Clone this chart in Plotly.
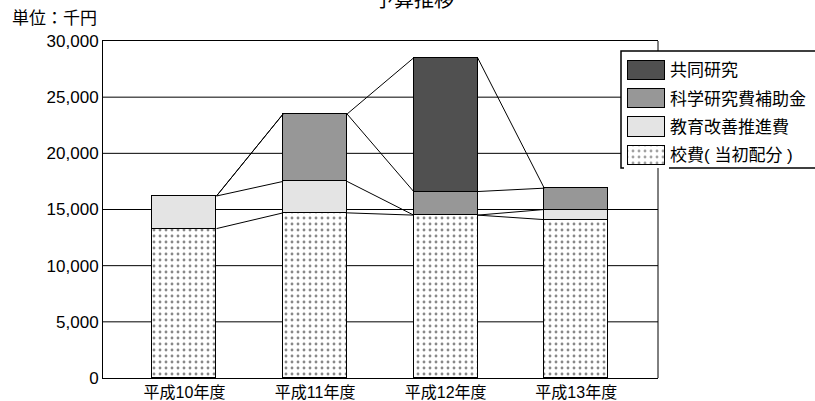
import plotly.graph_objects as go

# --- data (千円) ---
years = ["平成10年度", "平成11年度", "平成12年度", "平成13年度"]
series_names = ["校費( 当初配分 )", "教育改善推進費", "科学研究費補助金", "共同研究"]
kouhi = [13300, 14700, 14500, 14100]
kyouiku = [2900, 2800, 0, 900]
kaken = [0, 6000, 2100, 1900]
kyoudou = [0, 0, 11900, 0]
y_ticks = [0, 5000, 10000, 15000, 20000, 25000, 30000]

colors = ["#ffffff", "#e4e4e4", "#979797", "#505050"]
patterns = [".", "", "", ""]
FONT = "Liberation Sans, Noto Sans CJK JP, sans-serif"

# --- page geometry helpers (pixels -> paper fractions) ---
W, H = 815, 401
ML, MR, MT, MB = 103, 10, 41, 23
PW, PH = W - ML - MR, H - MT - MB


def px(x):
    return (x - ML) / PW


def py(y):
    return (H - MB - y) / PH


BOX_L, BOX_T, BOX_B = 621, 51, 168
PLOT_R = 658

fig = go.Figure()

values = [kouhi, kyouiku, kaken, kyoudou]
bar_w = 0.49
xs = list(range(len(years)))

for name, vals, col, pat in zip(series_names, values, colors, patterns):
    fig.add_trace(go.Bar(
        x=xs, y=[v if v else None for v in vals], name=name, width=bar_w,
        marker=dict(color=col, line=dict(color="black", width=1.5),
                    pattern=dict(shape=pat, fgcolor="#111111", size=6, solidity=0.18)),
        showlegend=False, hoverinfo="skip",
    ))

# series lines joining the tops of each stacked segment
cum = [0] * len(years)
for vals in values:
    cum = [c + v for c, v in zip(cum, vals)]
    lx, ly = [], []
    for i in range(len(years) - 1):
        lx += [i + bar_w / 2, i + 1 - bar_w / 2, None]
        ly += [cum[i], cum[i + 1], None]
    fig.add_trace(go.Scatter(x=lx, y=ly, mode="lines",
                             line=dict(color="black", width=1),
                             showlegend=False, hoverinfo="skip"))

# legend key swatches on their own small axes
fig.add_trace(go.Bar(
    x=[1, 1, 1, 1], y=[0, 1, 2, 3], orientation="h", width=0.68,
    xaxis="x2", yaxis="y2",
    marker=dict(color=colors, line=dict(color="black", width=1.5),
                pattern=dict(shape=patterns, fgcolor="#111111", size=6, solidity=0.18)),
    showlegend=False, hoverinfo="skip",
))

shapes = []
# horizontal gridlines; those behind the legend box stop at its left edge
y_box_lo, y_box_hi = 30000 * py(BOX_B), 30000 * py(BOX_T)
for v in y_ticks[1:-1]:
    right = BOX_L if y_box_lo <= v <= y_box_hi else PLOT_R
    shapes.append(dict(type="line", xref="paper", yref="y", x0=0, x1=px(right),
                       y0=v, y1=v, line=dict(color="black", width=1), layer="below"))
# legend box
shapes.append(dict(type="rect", xref="paper", yref="paper",
                   x0=px(BOX_L), x1=px(830), y0=py(BOX_B), y1=py(BOX_T),
                   fillcolor="white", line=dict(color="black", width=1.5), layer="below"))
# right border of the plot area, interrupted by the legend box
for y0, y1 in [(41, BOX_T), (BOX_B, 378)]:
    shapes.append(dict(type="line", xref="paper", yref="paper",
                       x0=px(PLOT_R), x1=px(PLOT_R), y0=py(y0), y1=py(y1),
                       line=dict(color="black", width=1), layer="above"))

annotations = [
    dict(text="予算推移", xref="paper", yref="paper", x=px(414), y=py(0),
         xanchor="center", yanchor="middle", showarrow=False,
         font=dict(size=20, color="black", family=FONT)),
    dict(text="単位：千円", xref="paper", yref="paper", x=px(99), y=py(18.5),
         xanchor="right", yanchor="middle", showarrow=False,
         font=dict(size=17, color="black", family=FONT)),
]
row_y = [155.5, 127.2, 99.5, 70.4]
for name, ry in zip(series_names, row_y):
    annotations.append(dict(text=name, xref="paper", yref="paper", x=px(668), y=py(ry),
                            xanchor="left", yanchor="middle", showarrow=False,
                            font=dict(size=17, color="black", family=FONT)))

fig.update_layout(
    width=W, height=H,
    margin=dict(l=ML, r=MR, t=MT, b=MB, autoexpand=False),
    paper_bgcolor="white", plot_bgcolor="white",
    barmode="stack", bargap=0,
    font=dict(family=FONT, size=17, color="black"),
    xaxis=dict(domain=[0, px(PLOT_R)], range=[-0.624, 3.626],
               tickvals=xs, ticktext=years, ticks="",
               showline=True, linecolor="black", linewidth=1, mirror=True,
               showgrid=False, zeroline=False, fixedrange=True,
               tickfont=dict(size=16)),
    yaxis=dict(range=[0, 30000], tickvals=y_ticks,
               ticktext=[f"{v:,}" for v in y_ticks], ticks="",
               showline=True, linecolor="black", linewidth=1,
               showgrid=False, zeroline=False, fixedrange=True,
               tickfont=dict(size=17)),
    xaxis2=dict(domain=[px(624), px(669)], anchor="y2",
                range=[-4 / 37, 1 + 4 / 37], visible=False, fixedrange=True),
    yaxis2=dict(domain=[py(172), py(52)], anchor="x2",
                range=[-(172 - 155.5) / 28.37, 3 + (70.4 - 52) / 28.37],
                visible=False, fixedrange=True),
    shapes=shapes,
    annotations=annotations,
)

fig.write_html("out.html")
